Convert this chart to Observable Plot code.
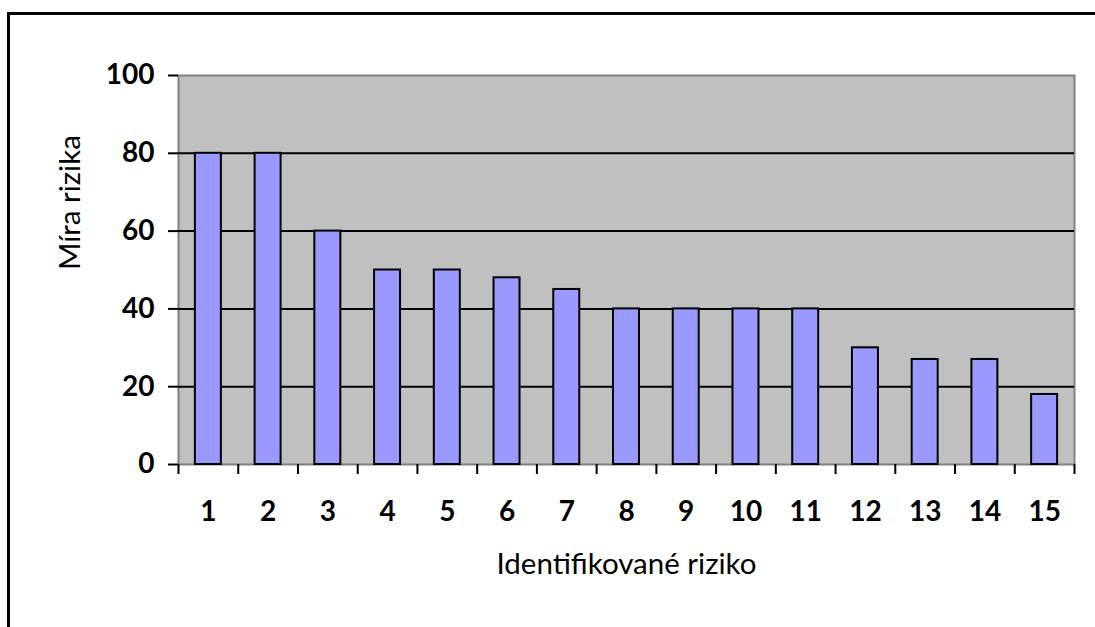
<!DOCTYPE html>
<html>
<head>
<meta charset="utf-8">
<script src="https://cdn.jsdelivr.net/npm/d3@7"></script>
<script src="https://cdn.jsdelivr.net/npm/@observablehq/plot@0.6"></script>
<style>
  html, body { margin: 0; padding: 0; background: #fff; overflow: hidden; width: 1095px; height: 627px; }
  #wrap { position: relative; width: 1095px; height: 627px; }
  #border { position: absolute; left: 7px; top: 12px; width: 1300px; height: 900px; border: 3px solid #000; box-sizing: border-box; }
  #chart { position: absolute; left: 0; top: 0; }
  svg { font-family: Lato, "Open Sans", sans-serif; }
</style>
</head>
<body>
<div id="wrap"><div id="border"></div><div id="chart"></div></div>
<script>
const categories = ["1","2","3","4","5","6","7","8","9","10","11","12","13","14","15"];
const values = [80, 80, 60, 50, 50, 48, 45, 40, 40, 40, 40, 30, 27, 27, 18];
const yTicks = [0, 20, 40, 60, 80, 100];
const gridValues = [20, 40, 60, 80];
const xTitle = "Identifikované riziko";
const yTitle = "Míra rizika";

const data = categories.map((c, i) => ({cat: c, val: values[i]}));

const W = 1095, H = 627;
const mL = 178, mR = 21, mT = 75, mB = 163;
const step = (W - mL - mR) / categories.length;

const chart = Plot.plot({
  width: W,
  height: H,
  marginLeft: mL,
  marginRight: mR,
  marginTop: mT,
  marginBottom: mB,
  style: {fontFamily: "Lato, 'Open Sans', sans-serif", background: "transparent", color: "#000", overflow: "visible"},
  x: {domain: categories, paddingInner: 0.565, paddingOuter: 0.2825, round: false, label: null},
  y: {domain: [0, 100], label: null},
  marks: [
    Plot.frame({fill: "#C0C0C0", stroke: "#808080", strokeWidth: 2}),
    Plot.ruleY(gridValues, {stroke: "#000", strokeWidth: 2}),
    Plot.barY(data, {x: "cat", y: "val", fill: "#9999FF", stroke: "#000", strokeWidth: 2}),
    Plot.axisY({ticks: yTicks, tickSize: 10, tickPadding: 14, fontSize: 28, fontWeight: "bold", line: true, strokeWidth: 2, label: null}),
    Plot.axisX({tickSize: 0, tickPadding: 37, fontSize: 28, fontWeight: "bold", line: true, strokeWidth: 2, label: null}),
    Plot.axisX({tickSize: 10, tickFormat: () => "", dx: -step / 2, strokeWidth: 2, label: null}),
    Plot.axisX({ticks: [categories[categories.length - 1]], tickSize: 10, tickFormat: () => "", dx: step / 2, strokeWidth: 2, label: null}),
    Plot.text([yTitle], {frameAnchor: "left", dx: -108, rotate: -90, fontSize: 29.5, fill: "#000"}),
    Plot.text([xTitle], {frameAnchor: "bottom", dy: 109, fontSize: 29.5, fill: "#000"})
  ]
});
document.getElementById("chart").appendChild(chart);
</script>
</body>
</html>
